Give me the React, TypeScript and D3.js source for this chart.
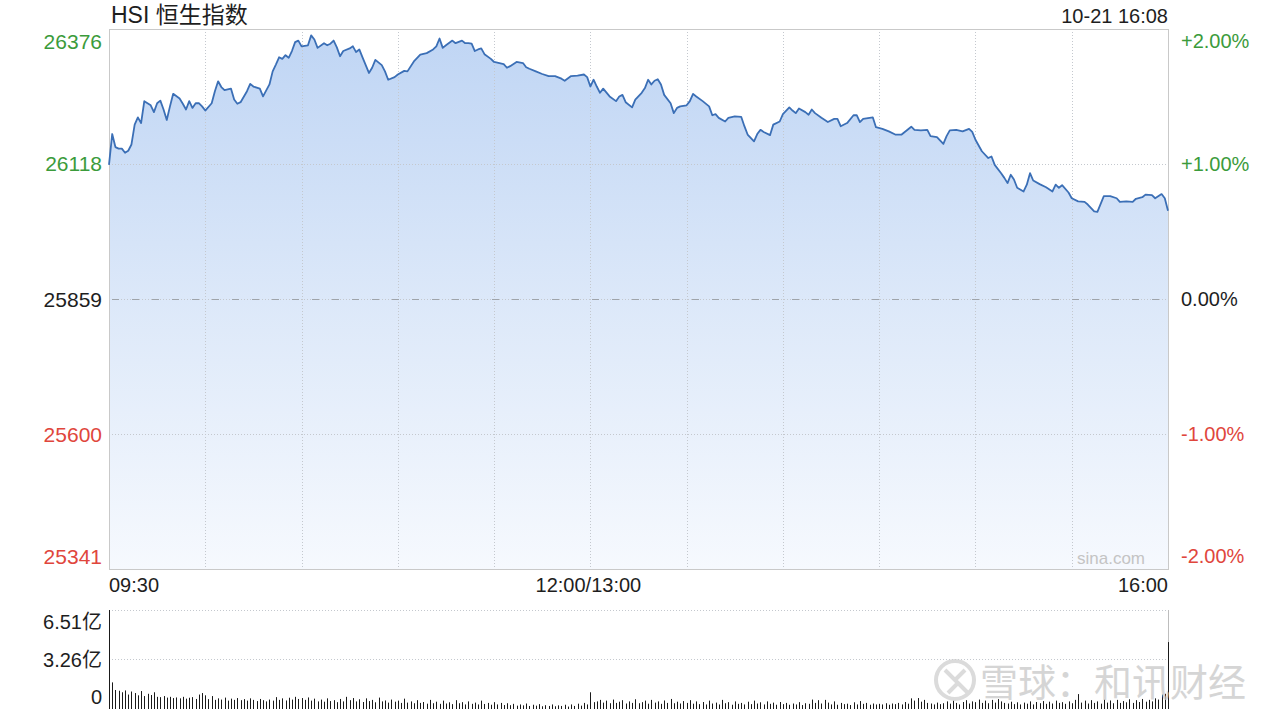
import React from 'react';
import * as d3 from 'd3';

// ---------- DATA ----------
const PRE_CLOSE = 25859;
const TITLE = 'HSI 恒生指数';
const STAMP = '10-21 16:08';

// trading minutes since 09:30 (lunch break removed; 150 = 12:00/13:00, 330 = 16:00)
const priceMinutes = [
  0, 1, 2, 3, 4, 5, 6, 7, 8, 9, 10, 11, 13, 14, 15, 16, 17, 18, 19, 20, 22, 23, 24, 25, 26, 27, 28, 29,
  30, 32, 33, 34, 35, 36, 38, 39, 40, 41, 43, 44, 45, 47, 48, 50, 51, 52, 53, 54, 55, 56, 57, 58, 59,
  60, 62, 63, 64, 65, 67, 68, 69, 70, 71, 72, 73, 75, 76, 77, 78, 79, 81, 82, 83, 85, 86, 87, 89,
  90, 92, 93, 95, 97, 99, 101, 102, 103, 104, 105, 107, 108, 110, 111, 112, 113, 114, 115, 116, 117, 119,
  120, 123, 124, 125, 127, 129, 130, 131, 133, 135, 137, 139, 141, 142, 144, 146, 148, 149,
  150, 151, 152, 153, 154, 156, 158, 159, 160, 161, 163, 164, 166, 167, 168, 169, 170, 171, 172, 173, 175, 176, 177, 178,
  180, 181, 182, 183, 185, 187, 188, 189, 190, 192, 193, 195, 197, 198, 199, 201, 202, 203, 204, 206, 207, 209,
  210, 212, 213, 214, 215, 217, 218, 219, 220, 222, 224, 226, 227, 228, 230, 232, 233, 234, 235, 238, 239,
  241, 243, 245, 247, 250, 251, 253, 255, 256, 258, 260, 261, 262, 264, 266, 268, 269,
  270, 272, 274, 275, 276, 278, 279, 280, 281, 282, 283, 285, 286, 287, 288, 290, 292, 294, 295, 296, 297, 299,
  300, 302, 304, 305, 307, 308, 310, 312, 314, 315, 317, 319, 320, 322, 323, 325, 326, 328, 329, 330,
];
const priceValues = [
  26116, 26175, 26150, 26147, 26147, 26139, 26143, 26155, 26193, 26207, 26196, 26238, 26230, 26217, 26234, 26239, 26222, 26202, 26228, 26252, 26243, 26233, 26222, 26238, 26225, 26234, 26234, 26228,
  26220, 26234, 26257, 26276, 26265, 26259, 26262, 26241, 26233, 26236, 26257, 26271, 26266, 26262, 26247, 26270, 26295, 26308, 26322, 26319, 26326, 26321, 26334, 26351, 26354,
  26343, 26345, 26364, 26356, 26340, 26349, 26345, 26348, 26354, 26341, 26324, 26334, 26339, 26343, 26332, 26337, 26322, 26292, 26302, 26317, 26307, 26295, 26279, 26284,
  26289, 26296, 26295, 26314, 26327, 26330, 26337, 26343, 26358, 26340, 26345, 26354, 26349, 26354, 26349, 26349, 26348, 26334, 26337, 26339, 26328, 26319,
  26313, 26309, 26302, 26305, 26313, 26311, 26303, 26300, 26295, 26290, 26286, 26286, 26281, 26277, 26286, 26287, 26289, 26284,
  26266, 26279, 26266, 26254, 26262, 26247, 26238, 26247, 26250, 26236, 26226, 26241, 26254, 26263, 26279, 26270, 26277, 26280, 26270, 26250, 26234, 26215, 26225, 26228,
  26230, 26238, 26252, 26247, 26238, 26228, 26211, 26213, 26206, 26199, 26206, 26209, 26208, 26190, 26174, 26161, 26175, 26183, 26179, 26173, 26193, 26199,
  26213, 26226, 26220, 26215, 26224, 26217, 26212, 26222, 26215, 26206, 26198, 26204, 26204, 26190, 26196, 26211, 26211, 26198, 26204, 26207, 26188,
  26185, 26180, 26174, 26174, 26189, 26183, 26182, 26183, 26171, 26169, 26156, 26171, 26182, 26183, 26180, 26185, 26179,
  26164, 26142, 26129, 26132, 26116, 26100, 26091, 26081, 26097, 26088, 26072, 26065, 26078, 26100, 26086, 26079, 26073, 26065, 26078, 26072, 26077, 26063,
  26052, 26046, 26045, 26040, 26027, 26026, 26056, 26056, 26052, 26045, 26046, 26045, 26051, 26054, 26059, 26058, 26052, 26060, 26052, 26028,
];

// volume per minute, in 亿
const volumes = [
  6.51, 1.75, 1.25, 1.2, 1.1, 1.22, 0.95, 1.15, 1.05, 0.9, 1.18, 0.85, 1.0, 0.92, 1.1, 0.8, 0.78, 0.85, 0.75, 0.8, 0.72, 0.76, 0.7, 0.8, 0.68, 0.74, 0.78, 0.66, 0.95, 1.05,
  0.9, 0.65, 0.85, 0.6, 0.7, 0.62, 0.75, 0.55, 0.68, 0.6, 0.72, 0.58, 0.65, 0.55, 0.7, 0.6, 0.52, 0.66, 0.58, 0.5, 0.62, 0.55, 0.78, 0.6, 0.7, 0.56, 0.74, 0.62, 0.8, 0.66,
  0.72, 0.6, 0.76, 0.55, 0.68, 0.5, 0.62, 0.48, 0.7, 0.52, 0.58, 0.45, 0.66, 0.5, 0.8, 0.58, 0.72, 0.5, 0.64, 0.46, 0.7, 0.52, 0.6, 0.44, 0.75, 0.5, 0.56, 0.42, 0.62, 0.48,
  0.55, 0.4, 0.68, 0.42, 0.5, 0.38, 0.58, 0.4, 0.46, 0.35, 0.6, 0.38, 0.48, 0.34, 0.55, 0.36, 0.44, 0.32, 0.58, 0.38, 0.45, 0.3, 0.5, 0.34, 0.42, 0.3, 0.55, 0.33, 0.4, 0.28,
  0.45, 0.3, 0.4, 0.26, 0.38, 0.25, 0.34, 0.22, 0.3, 0.24, 0.36, 0.2, 0.28, 0.22, 0.32, 0.18, 0.25, 0.2, 0.3, 0.18, 0.24, 0.2, 0.28, 0.16, 0.3, 0.2, 0.35, 0.22, 0.4, 0.3,
  1.1, 0.45, 0.5, 0.6, 0.42, 0.55, 0.38, 0.62, 0.4, 0.48, 0.58, 0.36, 0.5, 0.4, 0.64, 0.38, 0.45, 0.55, 0.35, 0.6, 0.42, 0.5, 0.34, 0.56, 0.4, 0.66, 0.38, 0.48, 0.36, 0.52,
  0.4, 0.58, 0.35, 0.5, 0.32, 0.46, 0.3, 0.55, 0.36, 0.42, 0.3, 0.6, 0.38, 0.45, 0.28, 0.5, 0.34, 0.4, 0.3, 0.48, 0.32, 0.55, 0.36, 0.44, 0.3, 0.5, 0.34, 0.42, 0.28, 0.46,
  0.32, 0.4, 0.28, 0.36, 0.3, 0.45, 0.26, 0.38, 0.34, 0.62, 0.4, 0.58, 0.36, 0.6, 0.42, 0.3, 0.5, 0.28, 0.4, 0.32, 0.35, 0.26, 0.44, 0.3, 0.52, 0.34, 0.4, 0.28, 0.36, 0.3,
  0.34, 0.3, 0.38, 0.28, 0.36, 0.32, 0.4, 0.3, 0.46, 0.35, 0.7, 0.55, 0.72, 0.48, 0.6, 0.4, 0.36, 0.3, 0.42, 0.32, 0.38, 0.5, 0.35, 0.55, 0.4, 0.3, 0.46, 0.58, 0.36, 0.5,
  0.45, 0.62, 0.4, 0.55, 0.38, 0.6, 0.42, 0.65, 0.5, 0.4, 0.36, 0.48, 0.32, 0.44, 0.3, 0.42, 0.35, 0.5, 0.3, 0.46, 0.38, 0.52, 0.34, 0.48, 0.36, 0.55, 0.4, 0.45, 0.34, 0.5,
  0.38, 0.6, 0.98, 0.42, 0.55, 0.36, 0.58, 0.4, 0.5, 0.35, 0.62, 0.42, 0.56, 0.38, 0.6, 0.4, 0.52, 0.44, 0.64, 0.4, 0.58, 0.46, 0.66, 0.48, 0.6, 0.5, 0.7, 0.62, 0.95, 1.0,
  4.4,
];

const priceTickValues = [26376, 26118, 25859, 25600, 25341];
const pctTickLabels = ['+2.00%', '+1.00%', '0.00%', '-1.00%', '-2.00%'];
const gridMinutes = [30, 60, 90, 120, 150, 180, 210, 240, 270, 300];
const timeTickMinutes = [0, 150, 330];
const timeTickLabels = ['09:30', '12:00/13:00', '16:00'];
const volTickValues = [6.51, 3.26, 0];
const volTickLabels = ['6.51亿', '3.26亿', '0'];

// ---------- LAYOUT ----------
const W = 1280, H = 720;
const L = 109, R = 1168, T = 29, B = 569;
const VT = 610, VB = 709;
const FONT = '"Liberation Sans", Arial, "Noto Sans CJK SC", sans-serif';
const GREEN = '#3b9b3b', RED = '#e0463c', BLACK = '#1e1e1e';

export default function App() {
  const x = d3.scaleLinear().domain([0, 330]).range([L, R]);
  const y = d3.scaleLinear().domain([PRE_CLOSE * 0.98, PRE_CLOSE * 1.02]).range([B, T]);
  const yv = d3.scaleLinear().domain([0, 6.51]).range([VB, VT]);

  const pts = priceMinutes.map((m, i) => [m, priceValues[i]] as [number, number]);
  const line = d3.line<[number, number]>().x(d => x(d[0])).y(d => y(d[1]));
  const area = d3.area<[number, number]>().x(d => x(d[0])).y0(B).y1(d => y(d[1]));

  const tickColor = (i: number) => (i < 2 ? GREEN : i === 2 ? BLACK : RED);
  const tickY = (i: number) => {
    const base = y(priceTickValues[i]);
    if (i === 0) return base + 12;
    if (i === priceTickValues.length - 1) return base - 13;
    return base;
  };

  return (
    <svg width={W} height={H} style={{ position: 'absolute', left: 0, top: 0, background: '#fff' }}
      fontFamily={FONT}>
      <defs>
        <linearGradient id="areaGrad" gradientUnits="userSpaceOnUse" x1="0" y1={T} x2="0" y2={B}>
          <stop offset="0" stopColor="#bfd5f4" />
          <stop offset="0.5" stopColor="#dce8f9" />
          <stop offset="1" stopColor="#f6f9fe" />
        </linearGradient>
      </defs>
      <rect x={0} y={0} width={W} height={H} fill="#fff" />

      {/* area */}
      <path d={area(pts) || ''} fill="url(#areaGrad)" />

      {/* grid */}
      {gridMinutes.map(m => (
        <line key={'vg' + m} x1={Math.round(x(m)) + 0.5} x2={Math.round(x(m)) + 0.5} y1={T} y2={B} stroke="#c4c8ce" strokeWidth={1}
          strokeDasharray="1,2" />
      ))}
      {[1, 3].map(i => (
        <line key={'hg' + i} x1={L} x2={R} y1={Math.round(y(priceTickValues[i])) + 0.5} y2={Math.round(y(priceTickValues[i])) + 0.5}
          stroke="#c4c8ce" strokeWidth={1} strokeDasharray="1,2" />
      ))}
      <line x1={L} x2={R} y1={Math.round(y(PRE_CLOSE)) + 0.5} y2={Math.round(y(PRE_CLOSE)) + 0.5} stroke="#c4c8ce" strokeWidth={1} strokeDasharray="1,2" />
      <line x1={L + 3} x2={R} y1={Math.round(y(PRE_CLOSE)) + 0.5} y2={Math.round(y(PRE_CLOSE)) + 0.5} stroke="#9fa4aa" strokeWidth={1} strokeDasharray="7,13" />

      {/* border */}
      <rect x={L + 0.5} y={T + 0.5} width={R - L} height={B - T} fill="none" stroke="#c9c9c9" strokeWidth={1} />

      {/* line */}
      <path d={line(pts) || ''} fill="none" stroke="#3b6fb6" strokeWidth={1.8} strokeLinejoin="round" />

      {/* sina.com */}
      <text x={1145} y={558} textAnchor="end" dominantBaseline="central" fontSize={17} fill="#c4c4c4">sina.com</text>

      {/* title */}
      <text x={111} y={23} fontSize={23} fill={BLACK}>{TITLE}</text>
      <text x={R} y={23} textAnchor="end" fontSize={20} fill={BLACK}>{STAMP}</text>

      {/* left price ticks */}
      {priceTickValues.map((v, i) => (
        <text key={'pl' + i} x={102} y={tickY(i)} textAnchor="end" dominantBaseline="central"
          fontSize={21} fill={tickColor(i)}>{String(v)}</text>
      ))}
      {/* right pct ticks */}
      {pctTickLabels.map((s, i) => (
        <text key={'pr' + i} x={1181} y={tickY(i)} textAnchor="start" dominantBaseline="central"
          fontSize={20} fill={tickColor(i)}>{s}</text>
      ))}

      {/* time ticks */}
      {timeTickMinutes.map((m, i) => (
        <text key={'tt' + i} x={i === 0 ? x(m) : i === 2 ? x(m) : x(m) - 2} y={585}
          textAnchor={i === 0 ? 'start' : i === 2 ? 'end' : 'middle'} dominantBaseline="central"
          fontSize={20} fill={BLACK}>{timeTickLabels[i]}</text>
      ))}

      {/* volume panel */}
      {volTickValues.slice(0, 2).map((v, i) => (
        <line key={'vgl' + i} x1={L} x2={R} y1={Math.round(yv(v)) + 0.5} y2={Math.round(yv(v)) + 0.5} stroke="#c4c8ce" strokeWidth={1} strokeDasharray="1,2" />
      ))}
      <line x1={R + 0.5} x2={R + 0.5} y1={VT} y2={VB} stroke="#bdbdbd" strokeWidth={1} />
      {volumes.map((v, i) => (
        <line key={'vb' + i} x1={Math.round(x(i)) + 0.5} x2={Math.round(x(i)) + 0.5} y1={yv(0)} y2={yv(v)} stroke="#1a1a1a" strokeWidth={1} />
      ))}
      {volTickValues.map((v, i) => (
        <text key={'vl' + i} x={102} y={i === 0 ? yv(v) + 12 : i === 2 ? yv(v) - 12 : yv(v) + 1}
          textAnchor="end" dominantBaseline="central" fontSize={20} fill={BLACK}>{volTickLabels[i]}</text>
      ))}

      {/* watermark */}
      <g opacity={0.75}>
        <circle cx={955} cy={680} r={19} fill="none" stroke="#cfcfcf" strokeWidth={4} />
        <path d="M945,670 L958,683 L948,693 M965,670 L954,681 M958,683 L968,693" fill="none" stroke="#cfcfcf" strokeWidth={4} />
        <text x={980} y={696} fontSize={38} fill="#c8c8c8" fontFamily='"Noto Sans CJK SC", sans-serif'>雪球：和讯财经</text>
      </g>
    </svg>
  );
}
